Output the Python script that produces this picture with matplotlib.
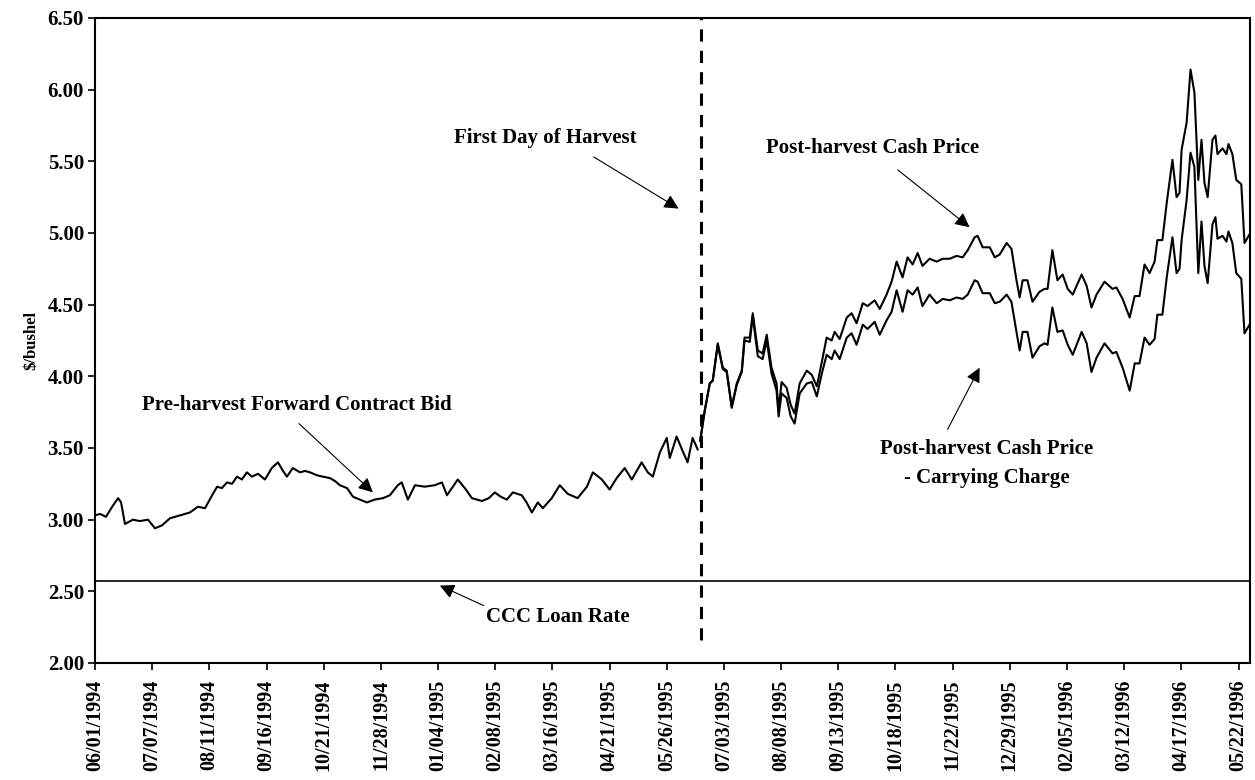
import matplotlib
matplotlib.use("Agg")
import matplotlib.pyplot as plt
import numpy as np

# trading-day index (0 = 06/01/1994), one tick every 25 trading days
tick_labels = ["06/01/1994", "07/07/1994", "08/11/1994", "09/16/1994", "10/21/1994",
               "11/28/1994", "01/04/1995", "02/08/1995", "03/16/1995", "04/21/1995",
               "05/26/1995", "07/03/1995", "08/08/1995", "09/13/1995", "10/18/1995",
               "11/22/1995", "12/29/1995", "02/05/1996", "03/12/1996", "04/17/1996",
               "05/22/1996"]
tick_days = [25 * i for i in range(len(tick_labels))]

pre_days = [0, 2.2, 4.8, 7.5, 10.1, 11.4, 13.1, 16.6, 19.6, 23.2, 26.2, 29.3, 32.8, 37.2,
            41.5, 45.0, 48.1, 51.2, 53.4, 55.5, 57.7, 59.9, 62.1, 64.2, 66.4, 68.6, 71.3,
            74.3, 77.3, 80.0, 82.2, 83.9, 86.5, 89.6, 91.8, 94.0, 97.0, 99.6, 102.7,
            104.9, 107.1, 110.2, 112.8, 115.8, 118.9, 122.3, 125.9, 128.9, 132.4, 134.1,
            136.8, 139.9, 144.2, 148.5, 151.7, 153.9, 158.6, 161.7, 164.8, 169.2, 172.2,
            174.8, 177.4, 180.1, 182.7, 186.6, 188.7, 191.0, 193.6, 195.8, 199.7, 203.2,
            206.7, 211.0, 215.1, 217.7, 221.6, 225.0, 228.1, 231.6, 234.7, 239.0, 241.7,
            243.9, 247.0, 250.0, 251.3, 254.3, 256.9, 259.1, 261.3, 263.5]
pre_bid = [3.03, 3.04, 3.02, 3.09, 3.15, 3.12, 2.97, 3.00, 2.99, 3.00, 2.94, 2.96, 3.01,
           3.03, 3.05, 3.09, 3.08, 3.17, 3.23, 3.22, 3.26, 3.25, 3.30, 3.28, 3.33, 3.30,
           3.32, 3.28, 3.36, 3.40, 3.34, 3.30, 3.36, 3.33, 3.34, 3.33, 3.31, 3.30, 3.29,
           3.27, 3.24, 3.22, 3.16, 3.14, 3.12, 3.14, 3.15, 3.17, 3.24, 3.26, 3.14, 3.24,
           3.23, 3.24, 3.26, 3.17, 3.28, 3.22, 3.15, 3.13, 3.15, 3.19, 3.16, 3.14, 3.19,
           3.17, 3.12, 3.05, 3.12, 3.08, 3.15, 3.24, 3.18, 3.15, 3.23, 3.33, 3.28, 3.21,
           3.29, 3.36, 3.28, 3.40, 3.33, 3.30, 3.47, 3.57, 3.43, 3.58, 3.48, 3.40, 3.57,
           3.49]

post_days = [264.6, 266.6, 268.8, 270.1, 272.3, 274.5, 276.2, 278.4, 280.6, 282.8, 284.0,
             286.3, 287.6, 289.8, 291.9, 293.7, 295.8, 298.0, 298.9, 300.2, 302.4, 304.2,
             305.9, 308.1, 311.2, 313.4, 315.6, 317.8, 319.9, 322.1, 323.4, 325.6, 328.7,
             330.8, 333.0, 335.7, 337.8, 340.9, 343.1, 346.1, 348.3, 350.5, 353.1, 355.3,
             357.5, 359.7, 361.8, 364.9, 368.0, 370.7, 373.7, 376.7, 379.4, 381.6, 384.6,
             385.9, 388.1, 391.2, 393.4, 395.6, 398.6, 400.7, 402.9, 404.3, 405.6, 407.7,
             409.9, 413.0, 415.2, 416.5, 418.6, 420.8, 423.1, 425.3, 427.5, 431.4, 433.6,
             435.7, 437.9, 441.4, 444.9, 446.6, 449.3, 452.4, 454.6, 456.7, 458.9, 461.1,
             463.3, 464.5, 466.7, 468.6, 471.1, 472.9, 474.2, 475.1, 477.3, 479.0, 480.7,
             482.4, 483.8, 485.1, 486.5, 488.6, 489.9, 490.8, 493.0, 494.7, 495.6, 497.3,
             499.0, 501.2, 502.6, 504.8]
post_cash = [3.55, 3.76, 3.95, 3.97, 4.23, 4.06, 4.04, 3.79, 3.95, 4.04, 4.27, 4.27, 4.44,
             4.18, 4.16, 4.29, 4.06, 3.95, 3.76, 3.96, 3.92, 3.80, 3.74, 3.95, 4.04, 4.01,
             3.93, 4.10, 4.27, 4.25, 4.31, 4.26, 4.41, 4.44, 4.37, 4.51, 4.49, 4.53, 4.47,
             4.57, 4.66, 4.80, 4.69, 4.83, 4.78, 4.86, 4.77, 4.82, 4.80, 4.82, 4.82, 4.84,
             4.83, 4.88, 4.97, 4.98, 4.90, 4.90, 4.83, 4.85, 4.93, 4.89, 4.67, 4.55, 4.67,
             4.67, 4.52, 4.59, 4.61, 4.61, 4.88, 4.67, 4.71, 4.61, 4.57, 4.71, 4.63, 4.48,
             4.57, 4.66, 4.61, 4.62, 4.54, 4.41, 4.56, 4.56, 4.78, 4.72, 4.80, 4.95, 4.95,
             5.21, 5.51, 5.25, 5.28, 5.58, 5.77, 6.14, 5.98, 5.37, 5.65, 5.35, 5.25, 5.65,
             5.68, 5.55, 5.59, 5.55, 5.62, 5.55, 5.37, 5.34, 4.93, 4.99]
post_net = [3.55, 3.76, 3.95, 3.97, 4.22, 4.05, 4.03, 3.78, 3.94, 4.03, 4.25, 4.24, 4.42,
            4.14, 4.12, 4.25, 4.02, 3.90, 3.72, 3.88, 3.85, 3.72, 3.67, 3.88, 3.95, 3.96,
            3.86, 4.02, 4.15, 4.12, 4.18, 4.12, 4.27, 4.30, 4.22, 4.36, 4.33, 4.38, 4.29,
            4.39, 4.45, 4.60, 4.45, 4.60, 4.57, 4.62, 4.49, 4.57, 4.51, 4.54, 4.53, 4.55,
            4.54, 4.57, 4.67, 4.66, 4.58, 4.58, 4.51, 4.52, 4.57, 4.52, 4.31, 4.18, 4.31,
            4.31, 4.13, 4.21, 4.23, 4.22, 4.48, 4.31, 4.32, 4.22, 4.15, 4.31, 4.23, 4.03,
            4.13, 4.23, 4.16, 4.17, 4.06, 3.90, 4.09, 4.09, 4.27, 4.22, 4.26, 4.43, 4.43,
            4.69, 4.97, 4.72, 4.75, 4.95, 5.23, 5.56, 5.46, 4.72, 5.08, 4.77, 4.65, 5.06,
            5.11, 4.96, 4.98, 4.94, 5.01, 4.93, 4.72, 4.68, 4.30, 4.36]

loan_rate = 2.57
harvest_day = 264.8

plt.rcParams['font.family'] = ['Liberation Serif', 'DejaVu Serif']
plt.rcParams['font.weight'] = 'bold'

fig = plt.figure(figsize=(12.55, 7.8), dpi=100)
ax = fig.add_axes([0.0757, 0.15, 0.9203, 0.827])

ax.plot(pre_days, pre_bid, color='black', lw=1.5)
ax.plot(post_days, post_cash, color='black', lw=1.5)
ax.plot(post_days, post_net, color='black', lw=1.5)
ax.axhline(loan_rate, color='black', lw=1.2)
ax.plot([harvest_day, harvest_day], [2.16, 6.5], color='black', lw=2.2,
        linestyle=(0, (4, 3)))

ax.set_xlim(0, 505)
ax.set_ylim(2.0, 6.5)
yt = np.arange(2.0, 6.51, 0.5)
ax.set_yticks(yt)
ax.set_yticklabels([f"{v:.2f}" for v in yt], fontsize=15, fontweight='bold')
ax.set_xticks(tick_days)
ax.set_xticklabels(tick_labels, rotation=90, fontsize=14.5, fontweight='bold')
ax.tick_params(direction='out', length=5, width=1.2)
ax.tick_params(axis='y', pad=3)
ax.tick_params(axis='x', pad=7)
ax.set_ylabel("$/bushel", fontsize=12, fontweight='bold', labelpad=6)
for s in ax.spines.values():
    s.set_linewidth(1.5)

arrow = dict(arrowstyle='-|>', color='black', lw=0.8, mutation_scale=22,
             shrinkA=0, shrinkB=0)
tfont = dict(fontsize=15, fontweight='bold', ha='center', va='center')

ax.text(196.7, 5.66, "First Day of Harvest", **tfont)
ax.annotate('', xy=(255.2, 5.17), xytext=(218.1, 5.53), arrowprops=arrow)

ax.text(340.0, 5.59, "Post-harvest Cash Price", **tfont)
ax.annotate('', xy=(382.4, 5.04), xytext=(351.0, 5.44), arrowprops=arrow)

ax.text(389.9, 3.39, "Post-harvest Cash Price\n- Carrying Charge", linespacing=1.6,
        **tfont)
ax.annotate('', xy=(386.8, 4.06), xytext=(372.8, 3.63), arrowprops=arrow)

ax.text(88.1, 3.80, "Pre-harvest Forward Contract Bid", **tfont)
ax.annotate('', xy=(121.5, 3.19), xytext=(89.2, 3.67), arrowprops=arrow)

ax.text(202.4, 2.32, "CCC Loan Rate", **tfont)
ax.annotate('', xy=(150.8, 2.54), xytext=(170.0, 2.40), arrowprops=arrow)

fig.savefig("out.png", dpi=100)
